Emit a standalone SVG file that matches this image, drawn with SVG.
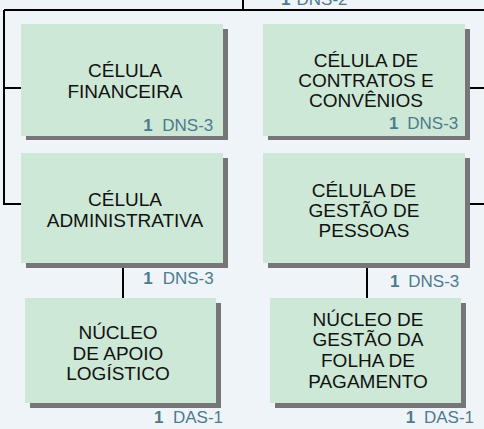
<svg xmlns="http://www.w3.org/2000/svg" width="484" height="429" viewBox="0 0 484 429">
<style>
.box{fill:#cde8d6}
.sh{fill:#767577}
.lbl{font-family:"Liberation Sans",Arial,sans-serif;font-size:19px;fill:#111;text-anchor:middle}
.n{font-family:"Liberation Sans",Arial,sans-serif;font-size:17px;fill:#4e7a8e}
.b{font-weight:bold}
.c{stroke:#000;stroke-width:2;fill:none}
</style>
<rect width="484" height="429" fill="#eff4f8"/>
<g id="connectors">
<path class="c" d="M243,0V10M4,10H484M4,10V204H21M4,88H21M470,88H484M470,204H484M123,263V298M367,263V298"/>
</g>
<g id="top-label">
<text class="n b" x="281" y="4.5">1</text><text class="n" x="296.5" y="4.5">DNS-2</text>
</g>
<g id="celula-financeira">
<rect class="sh" x="26" y="29" width="202" height="111"/>
<rect class="box" x="21" y="24" width="202" height="112"/>
<text class="lbl" x="125" y="77">CÉLULA</text>
<text class="lbl" x="125" y="98">FINANCEIRA</text>
<text class="n b" x="143.3" y="131">1</text><text class="n" x="162.3" y="131">DNS-3</text>
</g>
<g id="celula-contratos">
<rect class="sh" x="268" y="29" width="202" height="111"/>
<rect class="box" x="263" y="24" width="202" height="112"/>
<text class="lbl" x="366" y="66.7">CÉLULA DE</text>
<text class="lbl" x="366" y="86.7">CONTRATOS E</text>
<text class="lbl" x="366" y="106.7">CONVÊNIOS</text>
<text class="n b" x="389" y="129">1</text><text class="n" x="407.3" y="129">DNS-3</text>
</g>
<g id="celula-administrativa">
<rect class="sh" x="26" y="158" width="202" height="110"/>
<rect class="box" x="21" y="153" width="202" height="110"/>
<text class="lbl" x="125" y="205.7">CÉLULA</text>
<text class="lbl" x="125" y="226.7">ADMINISTRATIVA</text>
<text class="n b" x="143.3" y="283.5">1</text><text class="n" x="162.7" y="283.5">DNS-3</text>
</g>
<g id="celula-pessoas">
<rect class="sh" x="268" y="158" width="202" height="110"/>
<rect class="box" x="263" y="153" width="202" height="110"/>
<text class="lbl" x="364" y="196.7">CÉLULA DE</text>
<text class="lbl" x="364" y="216.7">GESTÃO DE</text>
<text class="lbl" x="364" y="236.7">PESSOAS</text>
<text class="n b" x="390" y="287">1</text><text class="n" x="408.3" y="287">DNS-3</text>
</g>
<g id="nucleo-apoio">
<rect class="sh" x="30" y="303" width="191" height="105"/>
<rect class="box" x="25" y="298" width="191" height="105"/>
<text class="lbl" x="118" y="339.3">NÚCLEO</text>
<text class="lbl" x="118" y="360.3">DE APOIO</text>
<text class="lbl" x="118" y="380">LOGÍSTICO</text>
<text class="n b" x="154" y="423.3">1</text><text class="n" x="173" y="423.3">DAS-1</text>
</g>
<g id="nucleo-folha">
<rect class="sh" x="275" y="303" width="191" height="105"/>
<rect class="box" x="270" y="298" width="191" height="105"/>
<text class="lbl" x="368" y="325.7">NÚCLEO DE</text>
<text class="lbl" x="368" y="345.7">GESTÃO DA</text>
<text class="lbl" x="368" y="367.3">FOLHA DE</text>
<text class="lbl" x="368" y="388.3">PAGAMENTO</text>
<text class="n b" x="405.7" y="423">1</text><text class="n" x="424" y="423">DAS-1</text>
</g>
</svg>
